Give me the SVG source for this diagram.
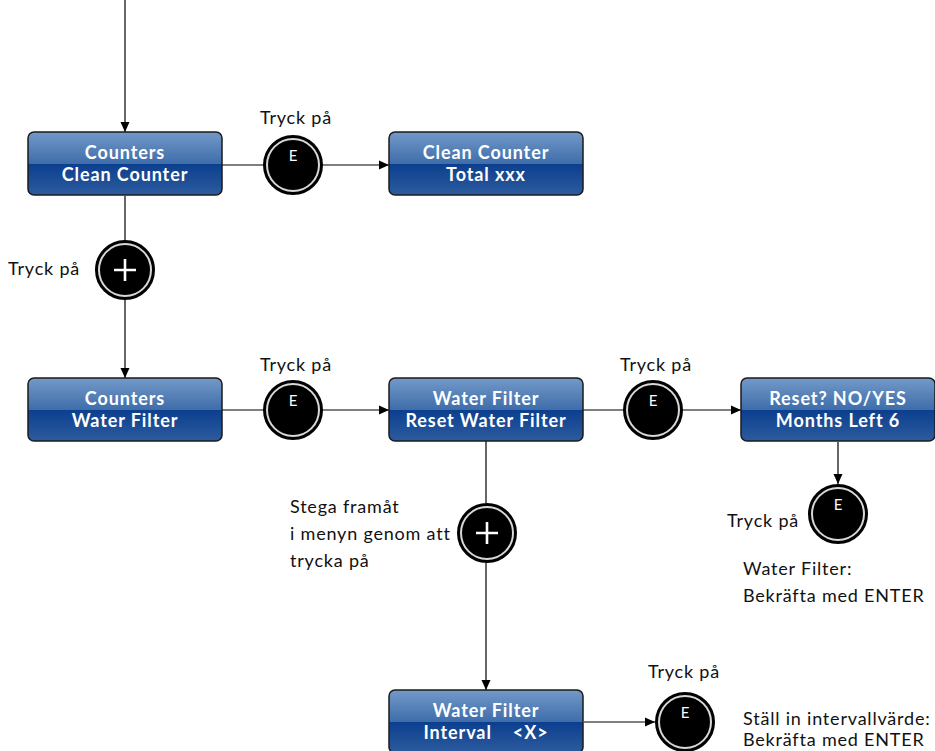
<svg xmlns="http://www.w3.org/2000/svg" width="935" height="751" viewBox="0 0 935 751">
<defs>
<linearGradient id="gTop" x1="0" y1="0" x2="0" y2="1">
<stop offset="0" stop-color="#7399c8"/>
<stop offset="1" stop-color="#3e6daa"/>
</linearGradient>
<linearGradient id="gBot" x1="0" y1="0" x2="0" y2="1">
<stop offset="0" stop-color="#0b3f8e"/>
<stop offset="1" stop-color="#2d5b9e"/>
</linearGradient>
<clipPath id="cBox"><rect x="0" y="0" width="194" height="63" rx="6"/></clipPath>
<marker id="arr" viewBox="0 0 10 10" refX="10" refY="5" markerWidth="10" markerHeight="10" markerUnits="userSpaceOnUse" orient="auto">
<path d="M0,0.5 L10,5 L0,9.5 Z" fill="#000"/>
</marker>
<g id="boxShape">
<g clip-path="url(#cBox)">
<rect x="0" y="0" width="194" height="32" fill="url(#gTop)"/>
<rect x="0" y="32" width="194" height="31" fill="url(#gBot)"/>
</g>
<rect x="0" y="0" width="194" height="63" rx="6" fill="none" stroke="#1b1b1b" stroke-width="1.5"/>
</g>
<g id="circ">
<circle cx="0" cy="0" r="29" fill="#000" stroke="#000" stroke-width="2"/>
<circle cx="0" cy="0" r="26" fill="none" stroke="#d8d8d8" stroke-width="2"/>
</g>
</defs>
<style>
.bt{font-family:Lato,"Open Sans","Liberation Sans",sans-serif;font-weight:bold;font-size:18px;letter-spacing:0.9px;fill:#fff;text-anchor:middle}
.lb{font-family:Lato,"Open Sans","Liberation Sans",sans-serif;font-size:18px;letter-spacing:0.8px;fill:#111}
.e{font-family:Lato,"Open Sans","Liberation Sans",sans-serif;font-size:15px;fill:#fff;text-anchor:middle}
.ln{stroke:#000;stroke-width:1.2;fill:none}
.plus{stroke:#fff;stroke-width:2.6;fill:none}
</style>
<g id="connectors">
<path class="ln" d="M125 0 V132" marker-end="url(#arr)"/>
<path class="ln" d="M125 196 V241"/>
<path class="ln" d="M125 299 V378" marker-end="url(#arr)"/>
<path class="ln" d="M222 165 H264"/>
<path class="ln" d="M322 165 H389" marker-end="url(#arr)"/>
<path class="ln" d="M222 410 H264"/>
<path class="ln" d="M322 410 H389" marker-end="url(#arr)"/>
<path class="ln" d="M583 410 H623"/>
<path class="ln" d="M683 410 H741" marker-end="url(#arr)"/>
<path class="ln" d="M838 442 V484" marker-end="url(#arr)"/>
<path class="ln" d="M486 441 V503"/>
<path class="ln" d="M486 563 V690" marker-end="url(#arr)"/>
<path class="ln" d="M584 722 H655" marker-end="url(#arr)"/>
</g>
<g id="box-counters-clean">
<use href="#boxShape" x="28" y="132"/>
<text class="bt" x="125" y="159">Counters</text>
<text class="bt" x="125" y="181">Clean Counter</text>
</g>
<g id="box-clean-total">
<use href="#boxShape" x="389" y="132"/>
<text class="bt" x="486" y="159">Clean Counter</text>
<text class="bt" x="486" y="181">Total xxx</text>
</g>
<g id="box-counters-water">
<use href="#boxShape" x="28" y="378"/>
<text class="bt" x="125" y="405">Counters</text>
<text class="bt" x="125" y="427">Water Filter</text>
</g>
<g id="box-water-reset">
<use href="#boxShape" x="389" y="378"/>
<text class="bt" x="486" y="405">Water Filter</text>
<text class="bt" x="486" y="427">Reset Water Filter</text>
</g>
<g id="box-reset-months">
<use href="#boxShape" x="741" y="378"/>
<text class="bt" x="838" y="405">Reset? NO/YES</text>
<text class="bt" x="838" y="427">Months Left 6</text>
</g>
<g id="box-water-interval">
<use href="#boxShape" x="389" y="690"/>
<text class="bt" x="486" y="717">Water Filter</text>
<text class="bt" x="486" y="739" xml:space="preserve">Interval    &lt;X&gt;</text>
</g>
<g id="btn-e1">
<use href="#circ" x="293" y="165"/>
<text class="e" x="293" y="161">E</text>
<text class="lb" x="296" y="124" text-anchor="middle">Tryck på</text>
</g>
<g id="btn-plus1">
<use href="#circ" x="125" y="270"/>
<path class="plus" d="M114 270 H136 M125 259 V281"/>
<text class="lb" x="8" y="275">Tryck på</text>
</g>
<g id="btn-e2">
<use href="#circ" x="293" y="410"/>
<text class="e" x="293" y="406">E</text>
<text class="lb" x="296" y="371" text-anchor="middle">Tryck på</text>
</g>
<g id="btn-e3">
<use href="#circ" x="653" y="410"/>
<text class="e" x="653" y="406">E</text>
<text class="lb" x="656" y="371" text-anchor="middle">Tryck på</text>
</g>
<g id="btn-e4">
<use href="#circ" x="838" y="514"/>
<text class="e" x="838" y="510">E</text>
<text class="lb" x="727" y="527">Tryck på</text>
<text class="lb" x="743" y="575">Water Filter:</text>
<text class="lb" x="743" y="602">Bekräfta med ENTER</text>
</g>
<g id="btn-plus2">
<use href="#circ" x="487" y="533"/>
<path class="plus" d="M476 533 H498 M487 522 V544"/>
<text class="lb" x="290" y="513">Stega framåt</text>
<text class="lb" x="290" y="540">i menyn genom att</text>
<text class="lb" x="290" y="567">trycka på</text>
</g>
<g id="btn-e5">
<use href="#circ" x="685" y="722"/>
<text class="e" x="685" y="718">E</text>
<text class="lb" x="684" y="678" text-anchor="middle">Tryck på</text>
<text class="lb" x="743" y="725">Ställ in intervallvärde:</text>
<text class="lb" x="743" y="746">Bekräfta med ENTER</text>
</g>
</svg>
